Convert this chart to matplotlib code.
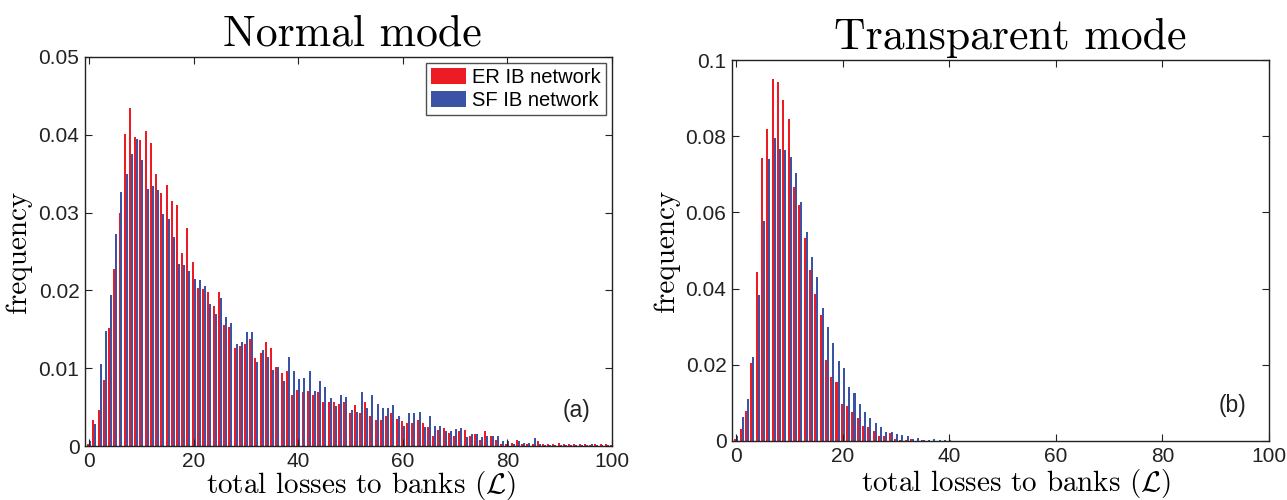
import numpy as np
import matplotlib
matplotlib.use("Agg")
import matplotlib.pyplot as plt
from matplotlib.ticker import FuncFormatter

# loss values 0..100 (integer bins)
losses = np.arange(101)

# Normal mode
normal_er = [
    0.0003, 0.0034, 0.0046, 0.0085, 0.0152, 0.0228, 0.0299, 0.0401, 0.0435, 0.0397,
    0.0393, 0.0405, 0.0389, 0.0349, 0.0325, 0.0335, 0.0315, 0.0310, 0.0248, 0.0280,
    0.0237, 0.0203, 0.0202, 0.0198, 0.0180, 0.0198, 0.0156, 0.0153, 0.0126, 0.0128,
    0.0131, 0.0138, 0.0113, 0.0120, 0.0134, 0.0126, 0.0102, 0.0094, 0.0097, 0.0066,
    0.0072, 0.0069, 0.0071, 0.0066, 0.0069, 0.0057, 0.0056, 0.0056, 0.0054, 0.0056,
    0.0042, 0.0053, 0.0042, 0.0056, 0.0039, 0.0033, 0.0033, 0.0038, 0.0042, 0.0035,
    0.0032, 0.0030, 0.0030, 0.0033, 0.0030, 0.0025, 0.0013, 0.0020, 0.0023, 0.0017,
    0.0013, 0.0019, 0.0020, 0.0013, 0.0015, 0.0008, 0.0019, 0.0013, 0.0008, 0.0003,
    0.0003, 0.0004, 0.0008, 0.0003, 0.0002, 0.0002, 0.0006, 0.0002, 0.0003, 0.0003,
    0.0004, 0.0002, 0.0002, 0.0002, 0.0002, 0.0002, 0.0001, 0.0002, 0.0002, 0.0003,
    0.0001,
]
normal_sf = [
    0.0006, 0.0028, 0.0105, 0.0148, 0.0194, 0.0272, 0.0326, 0.0349, 0.0375, 0.0395,
    0.0367, 0.0330, 0.0334, 0.0329, 0.0298, 0.0292, 0.0269, 0.0234, 0.0233, 0.0225,
    0.0215, 0.0213, 0.0206, 0.0183, 0.0170, 0.0190, 0.0166, 0.0158, 0.0131, 0.0134,
    0.0147, 0.0147, 0.0108, 0.0124, 0.0115, 0.0098, 0.0102, 0.0083, 0.0115, 0.0097,
    0.0086, 0.0088, 0.0097, 0.0071, 0.0084, 0.0076, 0.0062, 0.0051, 0.0066, 0.0063,
    0.0046, 0.0044, 0.0070, 0.0049, 0.0066, 0.0054, 0.0049, 0.0049, 0.0053, 0.0039,
    0.0026, 0.0043, 0.0043, 0.0044, 0.0025, 0.0039, 0.0026, 0.0026, 0.0019, 0.0019,
    0.0022, 0.0023, 0.0012, 0.0016, 0.0015, 0.0012, 0.0013, 0.0013, 0.0013, 0.0007,
    0.0006, 0.0003, 0.0007, 0.0004, 0.0004, 0.0010, 0.0003, 0.0001, 0.0001, 0.0001,
    0.0001, 0.0001, 0.0001, 0.0001, 0.0001, 0.0001, 0.0003, 0.0001, 0.0001, 0.0001,
    0.0002,
]

# Transparent mode (bins 0..45, rest zero)
transp_er = [
    0.0005, 0.0031, 0.0078, 0.0204, 0.0443, 0.0742, 0.0818, 0.0949, 0.0941, 0.0894,
    0.0844, 0.0666, 0.0619, 0.0532, 0.0448, 0.0385, 0.0330, 0.0212, 0.0167, 0.0154,
    0.0096, 0.0092, 0.0076, 0.0060, 0.0039, 0.0037, 0.0026, 0.0013, 0.0013, 0.0021,
    0.0005, 0.0003, 0.0002, 0.0005, 0.0001, 0.0002, 0.0001, 0.0001, 0.0000, 0.0001,
    0.0000, 0.0000, 0.0000, 0.0000, 0.0000, 0.0000,
]
transp_sf = [
    0.0012, 0.0063, 0.0109, 0.0220, 0.0382, 0.0577, 0.0739, 0.0794, 0.0766, 0.0763,
    0.0745, 0.0703, 0.0626, 0.0548, 0.0482, 0.0430, 0.0348, 0.0298, 0.0256, 0.0209,
    0.0191, 0.0142, 0.0126, 0.0097, 0.0076, 0.0060, 0.0047, 0.0037, 0.0024, 0.0024,
    0.0018, 0.0016, 0.0013, 0.0005, 0.0008, 0.0003, 0.0003, 0.0005, 0.0003, 0.0003,
    0.0002, 0.0001, 0.0001, 0.0001, 0.0001, 0.0001,
]
transp_er = transp_er + [0.0] * (101 - len(transp_er))
transp_sf = transp_sf + [0.0] * (101 - len(transp_sf))

RED = "#ED1C24"
BLUE = "#3A53A4"
bw = 0.38

plt.rcParams["mathtext.fontset"] = "cm"
plt.rcParams["font.family"] = ["Liberation Sans", "DejaVu Sans"]

fig = plt.figure(figsize=(12.87, 5.0), dpi=100)
ax1 = fig.add_axes([0.066, 0.108, 0.4095, 0.778])
ax2 = fig.add_axes([0.5688, 0.118, 0.4172, 0.762])


def style(ax, ymax, ystep, title, title_x, tag, xlab, ylab_x):
    ax.set_xlim(-0.8, 100)
    ax.set_ylim(0, ymax)
    ax.set_xticks(np.arange(0, 101, 20))
    ax.set_yticks(np.arange(0, ymax + 1e-9, ystep))
    ax.yaxis.set_major_formatter(FuncFormatter(lambda v, p: "%g" % round(v, 4)))
    ax.tick_params(direction="in", top=True, right=True, length=5, width=0.8,
                   labelsize=15, colors="#222222", pad=4)
    for s in ax.spines.values():
        s.set_linewidth(1.0)
        s.set_color("#222222")
    ax.set_title(title, family="cmr10", fontsize=31.5, pad=8, x=title_x)
    ax.text(xlab[0], xlab[1], r"total losses to banks ($\mathcal{L}$)",
            transform=ax.transAxes, family="cmr10", fontsize=21,
            ha="center", va="baseline")
    ax.set_ylabel("frequency", family="cmr10", fontsize=21)
    ax.yaxis.set_label_coords(ylab_x, 0.5)
    ax.text(0.932, 0.092, tag, transform=ax.transAxes, fontsize=16.5,
            ha="center", va="center", color="#222222")


ax1.bar(losses - bw / 2, normal_er, width=bw, color=RED, linewidth=0,
        label="ER IB network")
ax1.bar(losses + bw / 2, normal_sf, width=bw, color=BLUE, linewidth=0,
        label="SF IB network")
style(ax1, 0.05, 0.01, "Normal mode", 0.507, "(a)", (0.524, -0.122), -0.10)
leg = ax1.legend(loc="upper right", fontsize=14.5, frameon=True, fancybox=False,
                 edgecolor="#222222", borderpad=0.25, handlelength=1.75,
                 handleheight=0.8, handletextpad=0.3, labelspacing=0.2,
                 borderaxespad=0.3)
leg.get_frame().set_linewidth(1.0)

ax2.bar(losses - bw / 2, transp_er, width=bw, color=RED, linewidth=0)
ax2.bar(losses + bw / 2, transp_sf, width=bw, color=BLUE, linewidth=0)
style(ax2, 0.1, 0.02, "Transparent mode", 0.518, "(b)", (0.53, -0.132), -0.097)

fig.savefig("out.png", dpi=100)
